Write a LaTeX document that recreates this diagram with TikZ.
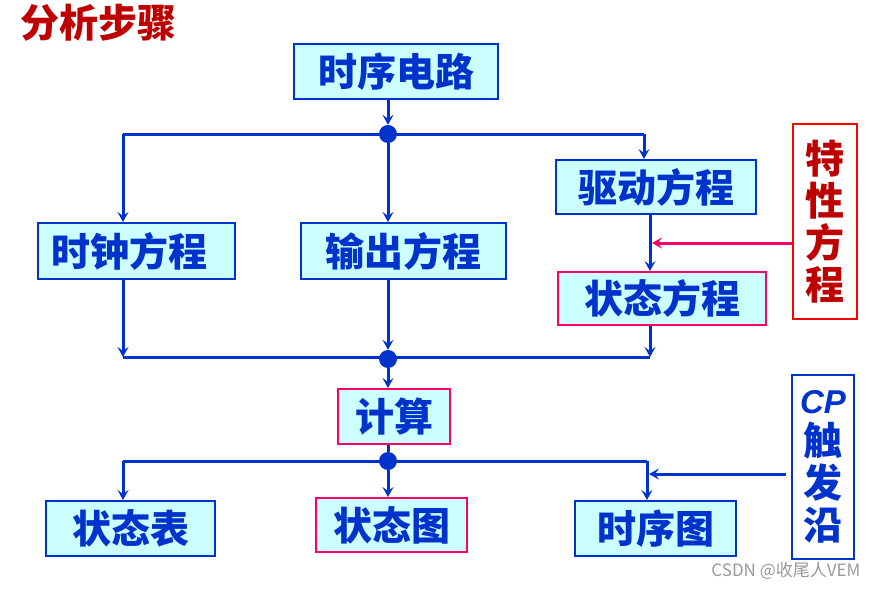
\documentclass[tikz,border=0pt]{standalone}
\usepackage{fontspec}
\newfontfamily\cjk{Noto Sans CJK SC}
\newfontfamily\lat{Liberation Sans}
\usetikzlibrary{arrows.meta}

\definecolor{lineblue}{rgb}{0.000000, 0.200000, 0.800000}
\definecolor{boxcyan}{rgb}{0.800000, 1.000000, 1.000000}
\definecolor{edgepink}{rgb}{1.000000, 0.000000, 0.400000}
\definecolor{edgered}{rgb}{1.000000, 0.000000, 0.000000}
\definecolor{textred}{rgb}{0.750000, 0.000000, 0.000000}
\definecolor{markgray}{rgb}{0.600000, 0.600000, 0.600000}

\newlength{\du}
\setlength{\du}{1pt}
\newcommand{\boxfont}{\cjk\bfseries\fontsize{39}{42}\selectfont}

\tikzset{
  stepbox/.style={draw=lineblue, fill=boxcyan, line width=2pt, inner sep=0pt,
    text=lineblue, font=\boxfont},
  pinkbox/.style={stepbox, draw=edgepink},
  sidebox/.style={stepbox, fill=white, align=center},
  flow/.style={draw=lineblue, line width=3pt},
  arr/.style={flow, -{Stealth[length=10pt, width=11pt, inset=4pt]}},
  pinkarr/.style={arr, draw=edgepink},
  dot/.style={circle, fill=lineblue, inner sep=0pt, minimum size=18pt}
}

\begin{document}
\begin{tikzpicture}[x=1pt, y=-1pt]
\useasboundingbox (0,0) rectangle (879,589);

% title
\node[text=textred, font=\boxfont] (title) at (98,23) {分析步骤};

% boxes
\node[stepbox, minimum width=204pt, minimum height=55pt] (circuit) at (396,71.5) {时序电路};
\node[stepbox, minimum width=200pt, minimum height=54pt] (drive) at (656,187) {驱动方程};
\node[stepbox, minimum width=197pt, minimum height=56pt] (clock) at (136.5,251) {\hspace*{-14pt}时钟方程};
\node[stepbox, minimum width=205pt, minimum height=56pt] (output) at (403.5,251) {输出方程};
\node[pinkbox, minimum width=208pt, minimum height=53pt] (state) at (662,298.5) {状态方程};
\node[pinkbox, minimum width=112pt, minimum height=55pt] (calc) at (394,416.5) {计算};
\node[stepbox, minimum width=169pt, minimum height=55pt] (table) at (130.5,528.5) {状态表};
\node[pinkbox, minimum width=151pt, minimum height=54pt] (graph) at (391.5,525) {状态图};
\node[stepbox, minimum width=161pt, minimum height=55pt] (timing) at (655.5,528.5) {时序图};

% side boxes
\node[sidebox, draw=edgered, text=textred, minimum width=64pt, minimum height=195pt] (charact) at (825,221.5) {特\\性\\方\\程};
\node[sidebox, minimum width=62pt, minimum height=184pt] (trigger) at (823,467) {{\lat\bfseries\itshape\fontsize{33}{42}\selectfont CP}\\触\\发\\沿};

% junctions
\node[dot] (j1) at (388,134) {};
\node[dot] (j2) at (388,359) {};
\node[dot] (j3) at (388,461) {};
\coordinate (tl) at (123,134);
\coordinate (tr) at (644,134);
\coordinate (ml) at (123,357);
\coordinate (mr) at (650,357);
\coordinate (bl) at (123,461);
\coordinate (br) at (647,461);
\coordinate (ctip) at (652,243);
\coordinate (ptip) at (649,474);

% connectors
\draw[arr] (circuit.south -| j1) -- (j1.north);
\draw[flow] (tl) -- (tr);
\draw[arr] (tl) -- (tl |- clock.north);
\draw[arr] (j1) -- (j1 |- output.north);
\draw[arr] (tr) -- (tr |- drive.north);
\draw[arr] (mr |- drive.south) -- (mr |- state.north);
\draw[flow] (ml) -- (mr);
\draw[arr] (ml |- clock.south) -- (ml);
\draw[arr] (j2 |- output.south) -- (j2.north);
\draw[arr] (mr |- state.south) -- (mr);
\draw[arr] (j2) -- (j2 |- calc.north);
\draw[flow] (j3 |- calc.south) -- (j3);
\draw[flow] (bl) -- (br);
\draw[arr] (bl) -- (bl |- table.north);
\draw[arr] (j3) -- (j3 |- graph.north);
\draw[arr] (br) -- (br |- timing.north);
\draw[pinkarr] (charact.west |- ctip) -- (ctip);
\draw[arr] ([xshift=-5pt]trigger.west |- ptip) -- (ptip);

% watermark
\node[text=markgray, font=\cjk\fontsize{17}{17}\selectfont, anchor=east] (mark) at (864,571) {CSDN @收尾人VEM};
\end{tikzpicture}
\end{document}
